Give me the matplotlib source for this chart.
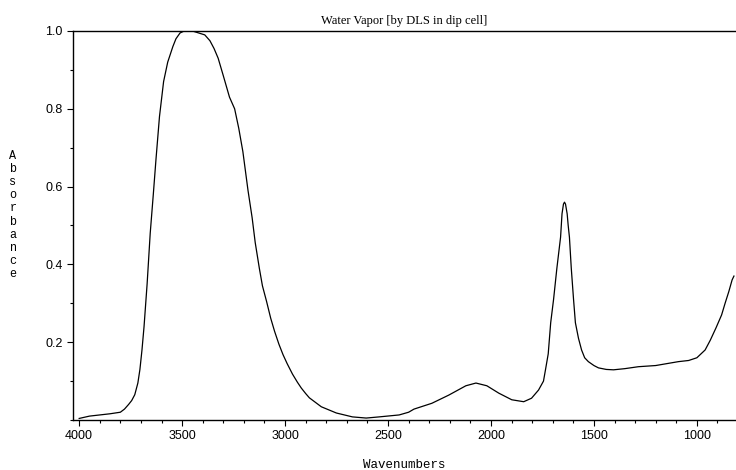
import matplotlib
matplotlib.use("Agg")
import matplotlib.pyplot as plt
from matplotlib.ticker import MultipleLocator

# IR spectrum of water vapor
wavenumbers = [4000, 3950, 3900, 3850, 3800, 3780, 3760, 3745, 3730, 3715,
               3705, 3695, 3685, 3670, 3655, 3640, 3627, 3610, 3590, 3570,
               3545, 3530, 3510, 3490, 3450, 3420, 3390, 3365, 3345, 3325,
               3300, 3270, 3245, 3225, 3205, 3180, 3160, 3145, 3125, 3110,
               3090, 3070, 3051, 3030, 3010, 2990, 2964, 2940, 2921, 2900,
               2882, 2824, 2751,
               2673, 2606, 2543, 2446, 2400, 2374, 2287, 2205, 2122, 2073,
               2020, 1962, 1899, 1841, 1803, 1769, 1745, 1735, 1722,
               1710, 1696, 1680, 1662, 1655, 1648, 1643, 1638, 1630, 1625,
               1619, 1610, 1599, 1590, 1575, 1560, 1545, 1527, 1500, 1478,
               1440, 1405, 1350, 1284, 1200, 1090, 1040, 1000, 980, 960,
               935, 907, 880, 863, 845, 829, 820]
absorbance = [0.004, 0.010, 0.013, 0.016, 0.020, 0.028, 0.040, 0.050, 0.065, 0.095,
              0.13, 0.18, 0.24, 0.35, 0.48, 0.58, 0.67, 0.78, 0.87, 0.92,
              0.96, 0.98, 0.995, 1.0, 1.0, 0.995, 0.99, 0.975, 0.955, 0.93,
              0.885, 0.83, 0.80, 0.75, 0.69, 0.59, 0.52, 0.456, 0.39, 0.345,
              0.305, 0.262, 0.228, 0.195, 0.168, 0.145, 0.118, 0.097, 0.082, 0.068,
              0.057, 0.034, 0.018,
              0.008, 0.005, 0.008, 0.013, 0.020, 0.028, 0.043, 0.064, 0.088, 0.095,
              0.088, 0.069, 0.052, 0.047, 0.056, 0.077, 0.10, 0.13, 0.17,
              0.25, 0.31, 0.39, 0.47, 0.53, 0.555, 0.56, 0.555, 0.53, 0.50,
              0.47, 0.39, 0.31, 0.25, 0.21, 0.18, 0.16, 0.15, 0.14, 0.134,
              0.13, 0.129, 0.132, 0.137, 0.14, 0.15, 0.153, 0.16, 0.17, 0.18,
              0.205, 0.237, 0.27, 0.30, 0.33, 0.36, 0.37]

fig = plt.figure(figsize=(7.36, 4.70), dpi=100)
ax = fig.add_axes([73/736, 50/470, 1 - 73/736, 389/470])

ax.plot(wavenumbers, absorbance, color="black", linewidth=0.9)

ax.set_xlim(4030, 810)
ax.set_ylim(0, 1.0)

ax.xaxis.set_major_locator(MultipleLocator(500))
ax.xaxis.set_minor_locator(MultipleLocator(100))
ax.set_yticks([0.2, 0.4, 0.6, 0.8, 1.0])
ax.yaxis.set_minor_locator(MultipleLocator(0.1))

ax.spines["right"].set_visible(False)
for s in ["left", "bottom", "top"]:
    ax.spines[s].set_linewidth(1.0)
ax.tick_params(which="major", length=4, width=0.8, labelsize=9, direction="out")
ax.tick_params(which="minor", length=2.5, width=0.8, direction="out")
for lbl in ax.get_xticklabels() + ax.get_yticklabels():
    lbl.set_fontfamily("Liberation Sans")

ax.set_title("Water Vapor [by DLS in dip cell]", fontsize=9,
             fontfamily="Liberation Serif", pad=5)
ax.set_xlabel("Wavenumbers", fontsize=9, fontfamily="Liberation Mono", labelpad=12)
fig.text(13/736, 1 - 215/470, "\n".join("Absorbance"), fontsize=8.5,
         fontfamily="Liberation Mono", ha="center", va="center", linespacing=1.12)

fig.savefig("out.png", dpi=100)
